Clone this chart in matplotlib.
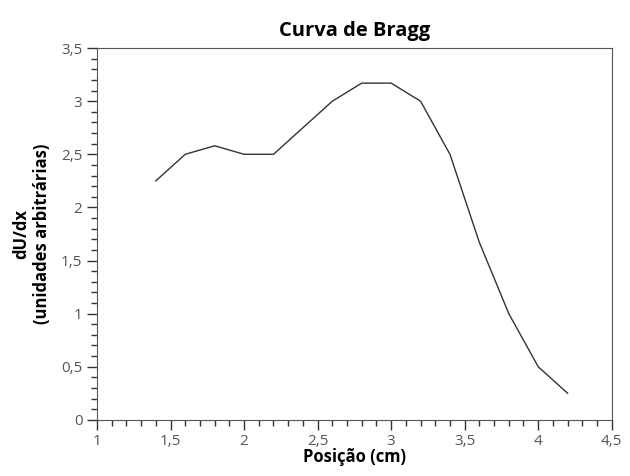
import matplotlib
matplotlib.use("Agg")
import matplotlib.pyplot as plt
from matplotlib.ticker import MultipleLocator, FuncFormatter

plt.rcParams["font.family"] = ["Open Sans", "DejaVu Sans"]

posicao = [1.4, 1.6, 1.8, 2.0, 2.2, 2.4, 2.6, 2.8, 3.0, 3.2, 3.4, 3.6, 3.8, 4.0, 4.2]
dudx = [2.25, 2.5, 2.58, 2.5, 2.5, 2.75, 3.0, 3.17, 3.17, 3.0, 2.5, 1.67, 1.0, 0.5, 0.25]

fig = plt.figure(figsize=(6.3, 4.76), dpi=100)
ax = fig.add_axes([0.154, 0.118, 0.817, 0.781])

ax.plot(posicao, dudx, color="#333333", linewidth=1.0)

ax.set_xlim(1, 4.5)
ax.set_ylim(0, 3.5)
ax.xaxis.set_major_locator(MultipleLocator(0.5))
ax.xaxis.set_minor_locator(MultipleLocator(0.1))
ax.yaxis.set_major_locator(MultipleLocator(0.5))
ax.yaxis.set_minor_locator(MultipleLocator(0.1))

virgula = FuncFormatter(lambda v, p: ("%g" % v).replace(".", ","))   # decimal comma
ax.xaxis.set_major_formatter(virgula)
ax.yaxis.set_major_formatter(virgula)

ax.tick_params(which="major", length=7, width=1, color="#333333", labelsize=11, labelcolor="#555555")
ax.tick_params(which="minor", length=4, width=1, color="#333333")
ax.tick_params(top=False, right=False, which="both")
for s in ax.spines.values():
    s.set_color("#555555")

ax.set_title("Curva de Bragg", fontsize=14.5, fontweight="bold", pad=9)
ax.set_xlabel("Posição (cm)", fontsize=12, fontweight="bold", labelpad=-1)
ax.set_ylabel("dU/dx\n(unidades arbitrárias)", fontsize=12, fontweight="bold", labelpad=7)

plt.savefig("out.png", dpi=100)
plt.close()
